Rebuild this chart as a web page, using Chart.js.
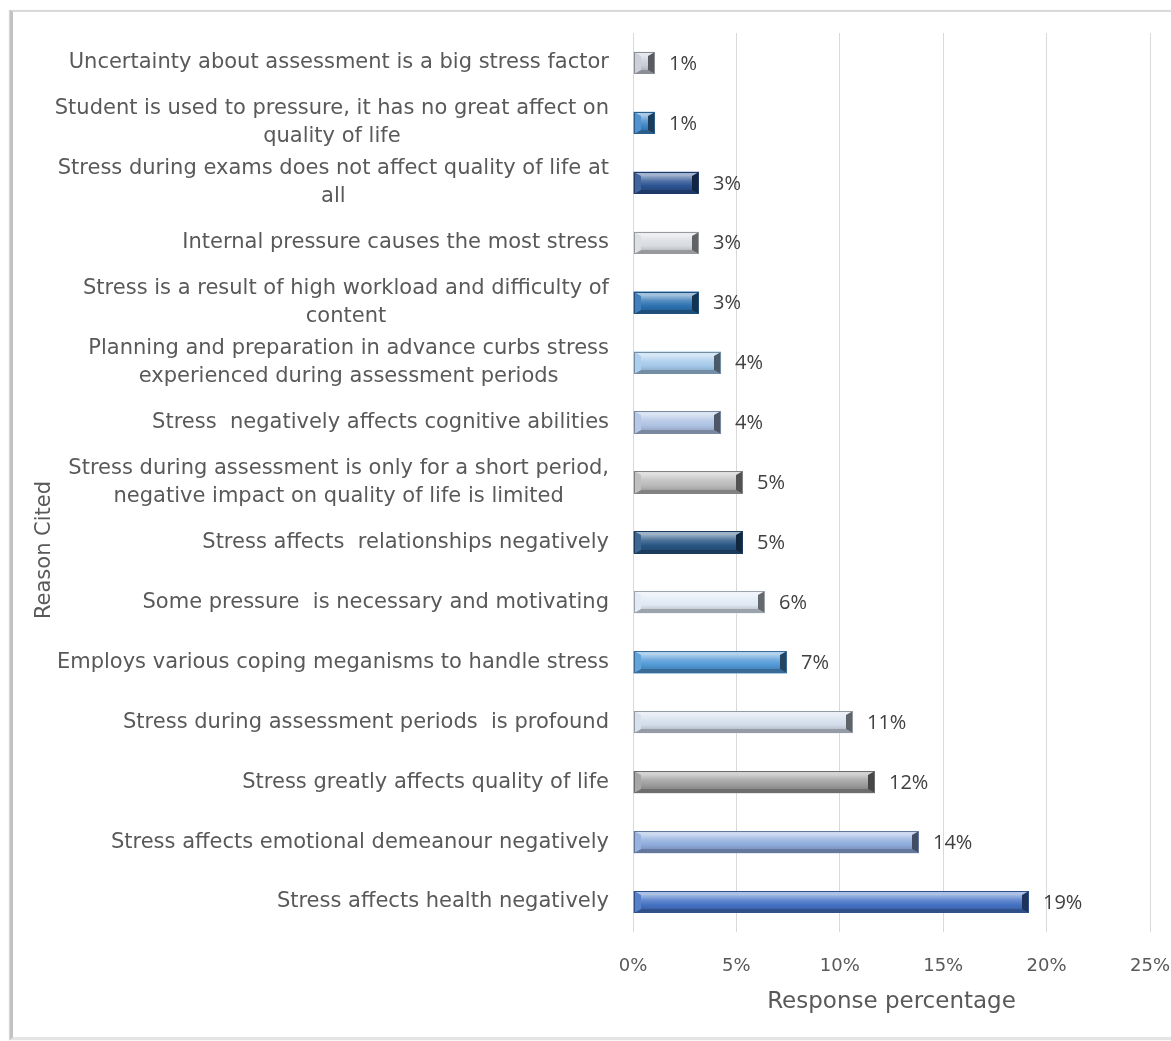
<!DOCTYPE html>
<html>
<head>
<meta charset="utf-8">
<script src="https://cdn.jsdelivr.net/npm/chart.js@4.4.1/dist/chart.umd.min.js"></script>
<style>
  html, body { margin: 0; padding: 0; background: #fff; overflow: hidden; }
  #frame {
    position: absolute; left: 10px; top: 10px; width: 1200px; height: 1025px;
    border-top: 2px solid #dadada; border-left: 3px solid #c2c2c2; border-bottom: 3px solid #e4e4e4;
    box-shadow: -1px 0 1px #d8d8d8;
  }
  #chart { position: absolute; left: 0; top: 0; }
</style>
</head>
<body>
<div id="frame"></div>
<canvas id="chart" width="1171" height="1041"></canvas>
<script>
// Reasons cited by students (top to bottom), multi-line ones split as shown
const categories = [
  'Uncertainty about assessment is a big stress factor',
  ['Student is used to pressure, it has no great affect on', 'quality of life'],
  ['Stress during exams does not affect quality of life at', 'all'],
  'Internal pressure causes the most stress',
  ['Stress is a result of high workload and difficulty of', 'content'],
  ['Planning and preparation in advance curbs stress', 'experienced during assessment periods'],
  'Stress  negatively affects cognitive abilities',
  ['Stress during assessment is only for a short period,', 'negative impact on quality of life is limited'],
  'Stress affects  relationships negatively',
  'Some pressure  is necessary and motivating',
  'Employs various coping meganisms to handle stress',
  'Stress during assessment periods  is profound',
  'Stress greatly affects quality of life',
  'Stress affects emotional demeanour negatively',
  'Stress affects health negatively'
];

// Share of responses, in percent
const responsePercent = [1.06, 1.06, 3.19, 3.19, 3.19, 4.26, 4.26, 5.32, 5.32, 6.38, 7.45, 10.64, 11.70, 13.83, 19.15];

// Horizontal axis ticks, in percent
const xTicks = [0, 5, 10, 15, 20, 25];

const xTitle = 'Response percentage';
const yTitle = 'Reason Cited';

// Base colour of each bar
const barColors = [
  '#c6cbd5', '#3f86c8', '#2c5392', '#d8dbe0', '#2c72b2',
  '#a4c9ea', '#aec2e3', '#b9b9b9', '#275684', '#dfe9f4',
  '#5199d6', '#d3ddeb', '#9c9c9c', '#8eabdc', '#4472c4'
];

function hexToRgb(h) {
  const n = parseInt(h.slice(1), 16);
  return [(n >> 16) & 255, (n >> 8) & 255, n & 255];
}
function shade(rgb, p) {
  const t = p >= 0 ? 255 : 0, a = Math.abs(p);
  const c = rgb.map(v => Math.round(v + (t - v) * a));
  return `rgb(${c[0]},${c[1]},${c[2]})`;
}
function poly(ctx, pts, fill) {
  ctx.beginPath();
  ctx.moveTo(pts[0][0], pts[0][1]);
  for (let k = 1; k < pts.length; k++) ctx.lineTo(pts[k][0], pts[k][1]);
  ctx.closePath();
  ctx.fillStyle = fill;
  ctx.fill();
}

// Bevelled bar faces, value labels, category labels and the vertical axis title
const decorations = {
  id: 'decorations',
  afterDatasetsDraw(chart) {
    const ctx = chart.ctx;
    const meta = chart.getDatasetMeta(0);
    ctx.save();
    meta.data.forEach((bar, i) => {
      const p = bar.getProps(['x', 'y', 'base', 'height'], true);
      const L = Math.round(Math.min(p.base, p.x)), R = Math.round(Math.max(p.base, p.x));
      const T = Math.round(p.y - p.height / 2), B = Math.round(p.y + p.height / 2);
      const c = hexToRgb(barColors[i]);
      const bh = 4;
      const bw = Math.min(7, (R - L) / 2 - 1);
      // face
      const g = ctx.createLinearGradient(0, T + bh, 0, B - bh);
      g.addColorStop(0, shade(c, 0.5));
      g.addColorStop(0.35, shade(c, 0.18));
      g.addColorStop(0.7, shade(c, 0));
      g.addColorStop(1, shade(c, -0.12));
      poly(ctx, [[L, T], [R, T], [R, B], [L, B]], g);
      // edges
      poly(ctx, [[L, T], [R, T], [R - bw, T + bh], [L + bw, T + bh]], shade(c, 0.55));
      poly(ctx, [[L, B], [R, B], [R - bw, B - bh], [L + bw, B - bh]], shade(c, -0.3));
      poly(ctx, [[L, T], [L + bw, T + bh], [L + bw, B - bh], [L, B]], shade(c, 0.1));
      poly(ctx, [[R, T], [R - bw, T + bh], [R - bw, B - bh], [R, B]], shade(c, -0.55));
      // outline
      ctx.strokeStyle = shade(c, -0.3);
      ctx.lineWidth = 1;
      ctx.strokeRect(L + 0.5, T + 0.5, R - L - 1, B - T - 1);
      // value label
      ctx.fillStyle = '#404040';
      ctx.font = '20px "Open Sans"';
      ctx.textAlign = 'left';
      ctx.textBaseline = 'middle';
      ctx.fillText(Math.round(responsePercent[i]) + '%', R + 14, p.y + 1);
    });
    ctx.restore();
  },
  afterDraw(chart) {
    const ctx = chart.ctx;
    const yScale = chart.scales.y;
    const rightEdge = yScale.right - 24;
    ctx.save();
    ctx.fillStyle = '#595959';
    ctx.font = '21px "DejaVu Sans"';
    ctx.textAlign = 'center';
    ctx.textBaseline = 'middle';
    categories.forEach((lab, i) => {
      const lines = Array.isArray(lab) ? lab : [lab];
      const w = Math.max(...lines.map(s => ctx.measureText(s).width));
      const cx = rightEdge - w / 2;
      const yc = yScale.getPixelForValue(i);
      lines.forEach((s, j) => {
        ctx.fillText(s, cx, yc + (j - (lines.length - 1) / 2) * 28);
      });
    });
    ctx.translate(45, 550);
    ctx.rotate(-Math.PI / 2);
    ctx.fillText(yTitle, 0, 0);
    ctx.restore();
  }
};

new Chart(document.getElementById('chart'), {
  type: 'bar',
  data: {
    labels: categories,
    datasets: [{
      data: responsePercent,
      backgroundColor: barColors,
      borderWidth: 0,
      categoryPercentage: 1,
      barPercentage: 0.37
    }]
  },
  options: {
    indexAxis: 'y',
    responsive: false,
    animation: false,
    devicePixelRatio: 1,
    layout: { padding: { top: 33, right: 21, left: 0, bottom: 0 } },
    plugins: { legend: { display: false }, tooltip: { enabled: false } },
    scales: {
      x: {
        min: 0, max: 25,
        afterBuildTicks: s => { s.ticks = xTicks.map(v => ({ value: v })); },
        ticks: {
          callback: v => v + '%',
          padding: 24,
          color: '#595959',
          font: { family: 'DejaVu Sans', size: 18 }
        },
        grid: { color: '#d9d9d9', lineWidth: 1, drawTicks: false },
        border: { display: false },
        title: {
          display: true, text: xTitle, color: '#595959',
          font: { family: 'DejaVu Sans', size: 23 },
          padding: { top: 0, bottom: 25 }
        },
        afterFit: s => { s.height = 109; s.paddingLeft = 0; s.paddingRight = 0; }
      },
      y: {
        ticks: { display: false },
        grid: { display: false },
        border: { display: false },
        afterFit: s => { s.width = 633; s.paddingTop = 0; s.paddingBottom = 0; }
      }
    }
  },
  plugins: [decorations]
});
</script>
</body>
</html>
